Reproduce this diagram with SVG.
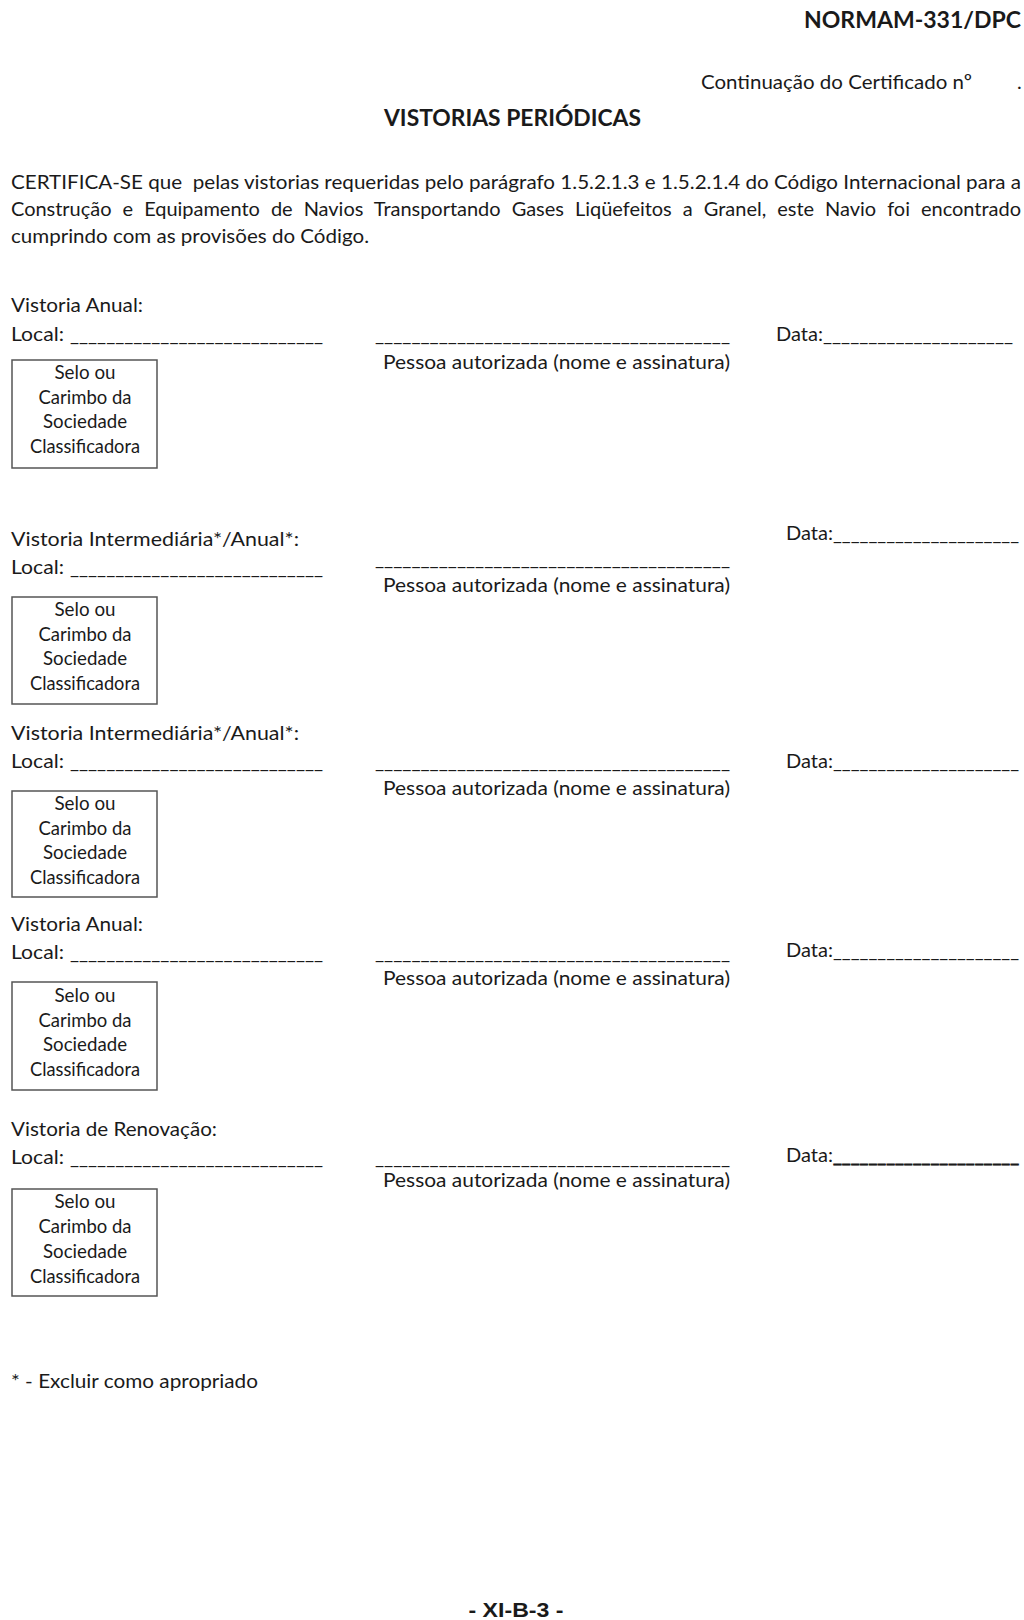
<svg xmlns="http://www.w3.org/2000/svg" width="1024" height="1620" viewBox="0 0 1024 1620">
<style>
text{font-family:Lato,"Liberation Sans",sans-serif;fill:#1a1a1a;font-size:20px}
.b{font-weight:bold;font-size:22px}
.c{text-anchor:middle}
.pg{font-family:"Liberation Sans",Arial,sans-serif;font-weight:bold;font-size:21px}
.box{fill:none;stroke:#555;stroke-width:1.5}
.thick{stroke:#1a1a1a;stroke-width:0.8}
</style>
<rect width="1024" height="1620" fill="#fff"/>
<g id="header">
<text class="b" x="804" y="28" textLength="217" lengthAdjust="spacingAndGlyphs">NORMAM-331/DPC</text>
<text x="701" y="89" textLength="271" lengthAdjust="spacingAndGlyphs">Continuação do Certificado nº</text>
<text x="1017" y="89">.</text>
<text class="b" x="384" y="126" textLength="257" lengthAdjust="spacingAndGlyphs">VISTORIAS PERIÓDICAS</text>
</g>
<g id="paragraph">
<text x="11" y="189" xml:space="preserve" textLength="1010" lengthAdjust="spacingAndGlyphs">CERTIFICA-SE que  pelas vistorias requeridas pelo parágrafo 1.5.2.1.3 e 1.5.2.1.4 do Código Internacional para a</text>
<text x="11" y="216" word-spacing="6" textLength="1010" lengthAdjust="spacing">Construção e Equipamento de Navios Transportando Gases Liqüefeitos a Granel, este Navio foi encontrado</text>
<text x="11" y="243" textLength="358" lengthAdjust="spacingAndGlyphs">cumprindo com as provisões do Código.</text>
</g>
<g id="connectors"></g>

<g id="s1">
<text x="11" y="312" textLength="132" lengthAdjust="spacingAndGlyphs">Vistoria Anual:</text>
<text x="11" y="341" textLength="53" lengthAdjust="spacingAndGlyphs">Local:</text>
<text x="70" y="341" textLength="253" lengthAdjust="spacingAndGlyphs">____________________________</text>
<text x="375" y="341" textLength="355" lengthAdjust="spacingAndGlyphs">_______________________________________</text>
<text x="776" y="341" textLength="47" lengthAdjust="spacingAndGlyphs">Data:</text>
<text x="823" y="341" textLength="190" lengthAdjust="spacingAndGlyphs">_____________________</text>
<text x="383" y="369" textLength="347" lengthAdjust="spacingAndGlyphs">Pessoa autorizada (nome e assinatura)</text>
<rect class="box" x="12" y="360" width="145" height="108"/>
<text class="c" x="85" y="379" textLength="61" lengthAdjust="spacingAndGlyphs">Selo ou</text>
<text class="c" x="85" y="404" textLength="93" lengthAdjust="spacingAndGlyphs">Carimbo da</text>
<text class="c" x="85" y="428" textLength="84" lengthAdjust="spacingAndGlyphs">Sociedade</text>
<text class="c" x="85" y="453" textLength="110" lengthAdjust="spacingAndGlyphs">Classificadora</text>
</g>

<g id="s2">
<text x="786" y="540" textLength="47" lengthAdjust="spacingAndGlyphs">Data:</text>
<text x="833" y="540" textLength="186" lengthAdjust="spacingAndGlyphs">_____________________</text>
<text x="11" y="546" textLength="288" lengthAdjust="spacingAndGlyphs">Vistoria Intermediária*/Anual*:</text>
<text x="11" y="574" textLength="53" lengthAdjust="spacingAndGlyphs">Local:</text>
<text x="70" y="574" textLength="253" lengthAdjust="spacingAndGlyphs">____________________________</text>
<text x="375" y="565" textLength="355" lengthAdjust="spacingAndGlyphs">_______________________________________</text>
<text x="383" y="592" textLength="347" lengthAdjust="spacingAndGlyphs">Pessoa autorizada (nome e assinatura)</text>
<rect class="box" x="12" y="597" width="145" height="107"/>
<text class="c" x="85" y="616" textLength="61" lengthAdjust="spacingAndGlyphs">Selo ou</text>
<text class="c" x="85" y="641" textLength="93" lengthAdjust="spacingAndGlyphs">Carimbo da</text>
<text class="c" x="85" y="665" textLength="84" lengthAdjust="spacingAndGlyphs">Sociedade</text>
<text class="c" x="85" y="690" textLength="110" lengthAdjust="spacingAndGlyphs">Classificadora</text>
</g>

<g id="s3">
<text x="11" y="740" textLength="288" lengthAdjust="spacingAndGlyphs">Vistoria Intermediária*/Anual*:</text>
<text x="11" y="768" textLength="53" lengthAdjust="spacingAndGlyphs">Local:</text>
<text x="70" y="768" textLength="253" lengthAdjust="spacingAndGlyphs">____________________________</text>
<text x="375" y="768" textLength="355" lengthAdjust="spacingAndGlyphs">_______________________________________</text>
<text x="786" y="768" textLength="47" lengthAdjust="spacingAndGlyphs">Data:</text>
<text x="833" y="768" textLength="186" lengthAdjust="spacingAndGlyphs">_____________________</text>
<text x="383" y="795" textLength="347" lengthAdjust="spacingAndGlyphs">Pessoa autorizada (nome e assinatura)</text>
<rect class="box" x="12" y="791" width="145" height="106"/>
<text class="c" x="85" y="810" textLength="61" lengthAdjust="spacingAndGlyphs">Selo ou</text>
<text class="c" x="85" y="835" textLength="93" lengthAdjust="spacingAndGlyphs">Carimbo da</text>
<text class="c" x="85" y="859" textLength="84" lengthAdjust="spacingAndGlyphs">Sociedade</text>
<text class="c" x="85" y="884" textLength="110" lengthAdjust="spacingAndGlyphs">Classificadora</text>
</g>

<g id="s4">
<text x="11" y="931" textLength="132" lengthAdjust="spacingAndGlyphs">Vistoria Anual:</text>
<text x="11" y="959" textLength="53" lengthAdjust="spacingAndGlyphs">Local:</text>
<text x="70" y="959" textLength="253" lengthAdjust="spacingAndGlyphs">____________________________</text>
<text x="375" y="959" textLength="355" lengthAdjust="spacingAndGlyphs">_______________________________________</text>
<text x="786" y="957" textLength="47" lengthAdjust="spacingAndGlyphs">Data:</text>
<text x="833" y="957" textLength="186" lengthAdjust="spacingAndGlyphs">_____________________</text>
<text x="383" y="985" textLength="347" lengthAdjust="spacingAndGlyphs">Pessoa autorizada (nome e assinatura)</text>
<rect class="box" x="12" y="982" width="145" height="108"/>
<text class="c" x="85" y="1002" textLength="61" lengthAdjust="spacingAndGlyphs">Selo ou</text>
<text class="c" x="85" y="1027" textLength="93" lengthAdjust="spacingAndGlyphs">Carimbo da</text>
<text class="c" x="85" y="1051" textLength="84" lengthAdjust="spacingAndGlyphs">Sociedade</text>
<text class="c" x="85" y="1076" textLength="110" lengthAdjust="spacingAndGlyphs">Classificadora</text>
</g>

<g id="s5">
<text x="11" y="1136" textLength="206" lengthAdjust="spacingAndGlyphs">Vistoria de Renovação:</text>
<text x="11" y="1164" textLength="53" lengthAdjust="spacingAndGlyphs">Local:</text>
<text x="70" y="1164" textLength="253" lengthAdjust="spacingAndGlyphs">____________________________</text>
<text x="375" y="1164" textLength="355" lengthAdjust="spacingAndGlyphs">_______________________________________</text>
<text x="786" y="1162" textLength="47" lengthAdjust="spacingAndGlyphs">Data:</text>
<text class="thick" x="833" y="1162" textLength="186" lengthAdjust="spacingAndGlyphs">_____________________</text>
<text x="383" y="1187" textLength="347" lengthAdjust="spacingAndGlyphs">Pessoa autorizada (nome e assinatura)</text>
<rect class="box" x="12" y="1189" width="145" height="107"/>
<text class="c" x="85" y="1208" textLength="61" lengthAdjust="spacingAndGlyphs">Selo ou</text>
<text class="c" x="85" y="1233" textLength="93" lengthAdjust="spacingAndGlyphs">Carimbo da</text>
<text class="c" x="85" y="1258" textLength="84" lengthAdjust="spacingAndGlyphs">Sociedade</text>
<text class="c" x="85" y="1283" textLength="110" lengthAdjust="spacingAndGlyphs">Classificadora</text>
</g>

<g id="footer">
<text x="11" y="1388" textLength="247" lengthAdjust="spacingAndGlyphs">* - Excluir como apropriado</text>
<text class="pg c" x="516" y="1617" textLength="95" lengthAdjust="spacingAndGlyphs">- XI-B-3 -</text>
</g>
</svg>
